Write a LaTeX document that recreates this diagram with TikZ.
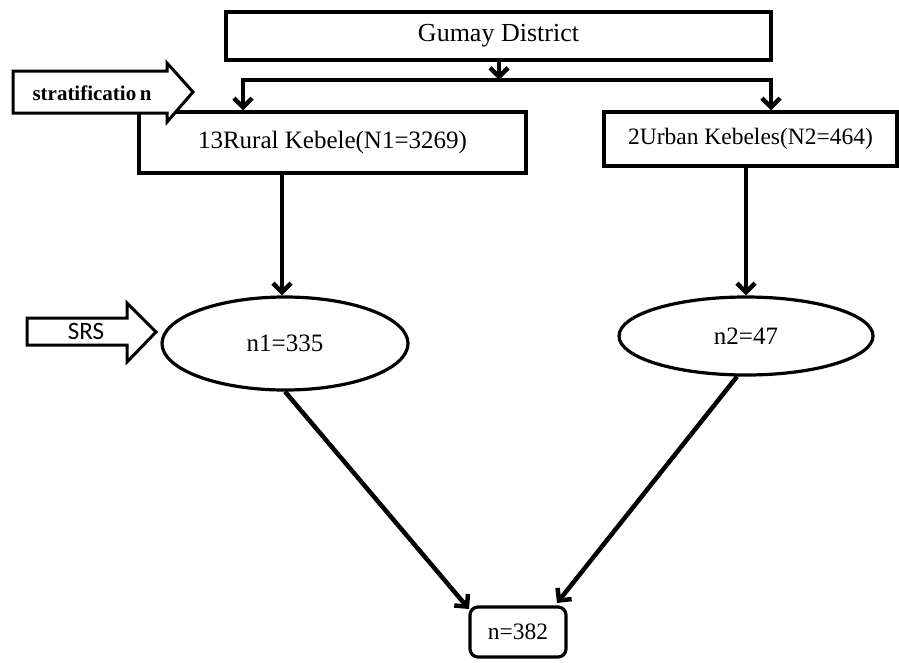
\documentclass[tikz,border=0pt]{standalone}
\usepackage{fontspec}
\setmainfont{Liberation Serif}
\newfontfamily\srsfont{Carlito}
\usetikzlibrary{arrows.meta,shapes.geometric,calc}
\begin{document}
\begin{tikzpicture}[x=1pt,y=-1pt,
  >={Straight Barb[length=9pt,width=18pt]},
  box/.style={draw,line width=3.2pt,inner sep=0pt},
  oval/.style={draw,ellipse,line width=3.2pt,inner sep=0pt},
  conn/.style={draw,line width=4.5pt,->},
  conn2/.style={draw,line width=4.5pt,<->},
  blockarrow/.style={draw,line width=3pt,fill=white,line join=miter}
]
\useasboundingbox (0,0) rectangle (899,662);

% boxes
\node[box,minimum width=545pt,minimum height=48pt,font=\fontsize{26}{30}\selectfont] (gumay) at (498.5,36) {Gumay District};
\node[box,minimum width=387pt,minimum height=61pt,font=\fontsize{25}{30}\selectfont] (rural) at (332.5,142.5) {13Rural Kebele(N1=3269)};
\node[box,minimum width=293pt,minimum height=54pt,font=\fontsize{23.5}{28}\selectfont] (urban) at (750.5,139) {2Urban Kebeles(N2=464)};
\node[oval,minimum width=246pt,minimum height=93pt,font=\fontsize{25}{30}\selectfont] (n1) at (285,343.5) {n1=335};
\node[oval,minimum width=254pt,minimum height=78pt,font=\fontsize{25}{30}\selectfont] (n2) at (746,336) {n2=47};
\node[box,rounded corners=8pt,minimum width=96pt,minimum height=50pt,font=\fontsize{23.5}{28}\selectfont] (total) at (518,632) {n=382};

% block arrows
\draw[blockarrow] (13,71) -- (167,71) -- (167,63) -- (193,92) -- (167,122) -- (167,113) -- (13,113) -- cycle;
\node[font=\bfseries\fontsize{21}{24}\selectfont] (strat) at (92,93) {stratificatio\,n};
\draw[blockarrow] (27,318) -- (127,318) -- (127,303) -- (156,332) -- (127,362) -- (127,345) -- (27,345) -- cycle;
\node[font=\srsfont\fontsize{25}{28}\selectfont] (srs) at (86,331) {SRS};

% connectors
\coordinate (split) at (499,80);
\coordinate (rl) at (243,80);
\coordinate (rr) at (771,80);
\path[conn] (gumay.south -| split) -- (split);
\path[conn2] (rl |- rural.north) -- (rl) -- (rr) -- (rr |- urban.north);
\coordinate (rx) at (282,0);
\path[conn] (rural.south -| rx) -- (n1.north -| rx);
\path[conn] (urban.south -| n2.north) -- (n2.north);
\coordinate (tl) at (469,609);
\coordinate (tr) at (557,603);
\path[conn] (n1.south) -- (tl);
\path[conn] ($(n2.south)+(-9,0)$) -- (tr);
\end{tikzpicture}
\end{document}
